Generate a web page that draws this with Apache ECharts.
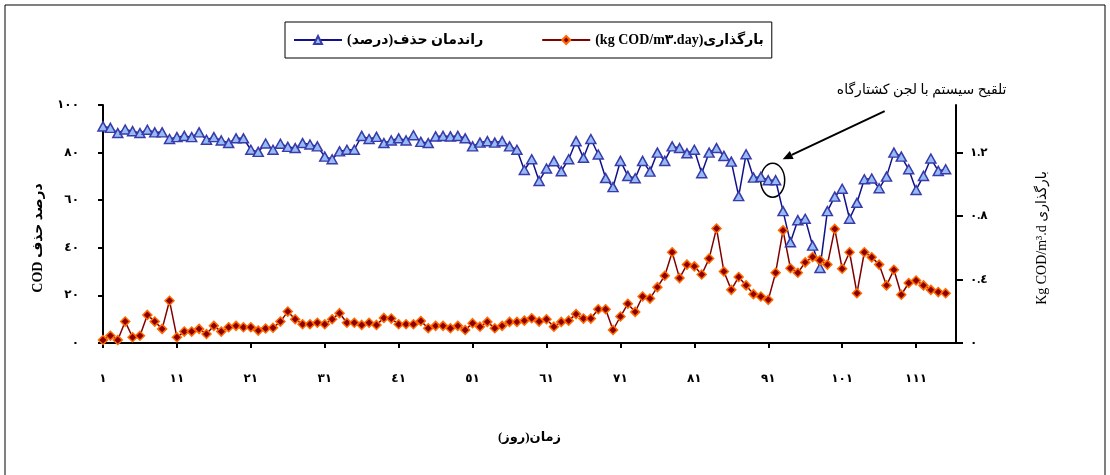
<!DOCTYPE html>
<html>
<head>
<meta charset="utf-8">
<script src="https://cdn.jsdelivr.net/npm/echarts@6/dist/echarts.min.js"></script>
<style>
html, body { margin: 0; padding: 0; background: #fff; }
#chart { width: 1110px; height: 475px; }
</style>
</head>
<body>
<div id="chart"></div>
<script>
// راندمان حذف COD (درصد) - روز ۱ تا ۱۱۵
const removal = [
    91.0, 90.4, 88.2, 89.7, 89.0, 88.2, 89.6, 88.5, 88.5, 85.7, 86.5, 87.0, 86.5, 88.5, 85.4, 86.5, 85.1, 84.0, 86.0, 86.0, 81.2, 80.3, 83.8, 81.2,
    83.7, 82.4, 81.9, 84.0, 83.4, 82.6, 78.3, 77.2, 80.5, 81.2, 81.2, 87.0, 85.7, 86.6, 84.0, 85.1, 86.0, 85.1, 87.3, 84.5, 84.0, 86.8, 87.0, 86.8,
    87.0, 86.0, 82.6, 84.2, 84.8, 84.2, 84.8, 82.6, 81.2, 72.7, 77.2, 68.1, 73.3, 76.4, 72.2, 77.2, 84.8, 77.8, 85.7, 79.2, 69.3, 65.5, 76.5,
    70.2, 69.2, 76.5, 72.0, 80.0, 76.5, 82.6, 81.9, 79.7, 81.2, 71.3, 80.0, 81.9, 78.6, 76.2, 61.7, 79.3, 69.5, 69.8, 68.4, 68.4, 55.4, 42.3, 51.6,
    52.2, 40.9, 31.5, 55.4, 61.5, 64.8, 52.2, 58.9, 68.8, 69.1, 65.0, 69.9, 80.0, 78.3, 73.0, 64.3, 70.2, 77.5, 72.3, 73.0
];
// بارگذاری (kg COD/m3.day)
const loading = [
    0.019, 0.046, 0.019, 0.135, 0.036, 0.046, 0.177, 0.135, 0.089, 0.266, 0.036, 0.072, 0.072, 0.089, 0.057, 0.108, 0.072, 0.099, 0.108, 0.099, 0.099, 0.078, 0.091, 0.096,
    0.135, 0.198, 0.150, 0.118, 0.118, 0.128, 0.118, 0.150, 0.188, 0.128, 0.128, 0.114, 0.128, 0.114, 0.158, 0.154, 0.118, 0.118, 0.118, 0.139, 0.093, 0.108, 0.108, 0.093,
    0.108, 0.082, 0.125, 0.103, 0.133, 0.093, 0.108, 0.133, 0.133, 0.141, 0.156, 0.135, 0.150, 0.103, 0.133, 0.141, 0.182, 0.154, 0.154, 0.213, 0.213, 0.082, 0.167,
    0.247, 0.196, 0.293, 0.280, 0.352, 0.424, 0.572, 0.409, 0.494, 0.483, 0.432, 0.532, 0.722, 0.451, 0.335, 0.416, 0.363, 0.308, 0.293, 0.272, 0.443, 0.710, 0.471, 0.443,
    0.508, 0.542, 0.521, 0.494, 0.719, 0.468, 0.572, 0.314, 0.572, 0.540, 0.494, 0.363, 0.462, 0.304, 0.378, 0.394, 0.363, 0.335, 0.321, 0.314
];
const dayTicks = [1, 11, 21, 31, 41, 51, 61, 71, 81, 91, 101, 111];
const rightTicks = [0, 0.4, 0.8, 1.2];

const nameRemoval = 'راندمان حذف(درصد)\u200F';
const nameLoad = '(kg COD/m۳.day)بارگذاری';
const noteText = 'تلقیح سیستم با لجن کشتارگاه';

const FONT = '"Liberation Serif", "DejaVu Sans", serif';
const AR_DIGITS = '٠١٢٣٤٥٦٧٨٩';
function toAr (s) {
    return String(s).replace(/[0-9]/g, (d) => AR_DIGITS[+d]);
}

const txt = {fontFamily: FONT, fontWeight: 'bold', fontSize: 12, color: '#000'};

let myChart = echarts.init(document.getElementById('chart'));
myChart.setOption({
    animation: false,
    backgroundColor: '#fff',
    grid: {left: 103, right: 154, top: 105, bottom: 132},
    legend: {
        left: 285,
        top: 22,
        padding: [11, 8, 11, 8],
        itemGap: 58,
        itemWidth: 48,
        itemHeight: 10,
        borderColor: '#000',
        borderWidth: 1,
        textStyle: {fontFamily: FONT, fontWeight: 'bold', fontSize: 14, color: '#000'},
        data: [nameRemoval, nameLoad]
    },
    xAxis: {
        type: 'value',
        min: 1,
        max: 116.4,
        interval: 10,
        name: 'زمان(روز)\u200F',
        nameLocation: 'middle',
        nameGap: 88,
        nameTextStyle: {fontFamily: FONT, fontWeight: 'bold', fontSize: 13, color: '#000'},
        axisLine: {show: true, lineStyle: {color: '#000', width: 2}},
        axisTick: {show: true, customValues: dayTicks, length: 5, lineStyle: {color: '#000', width: 2}},
        axisLabel: Object.assign({customValues: dayTicks, margin: 30, formatter: (v) => toAr(v)}, txt),
        splitLine: {show: false}
    },
    yAxis: [
        {
            type: 'value',
            position: 'left',
            min: 0,
            max: 100,
            interval: 20,
            name: 'COD درصد حذف',
            nameLocation: 'middle',
            nameGap: 58,
            nameTextStyle: {fontFamily: FONT, fontWeight: 'bold', fontSize: 14, color: '#000', padding: [0, 28, 0, 0]},
            axisLine: {show: true, lineStyle: {color: '#000', width: 2}},
            axisTick: {show: true, length: 5, lineStyle: {color: '#000', width: 2}},
            axisLabel: Object.assign({margin: 24, formatter: (v) => toAr(v)}, txt),
            splitLine: {show: false}
        },
        {
            type: 'value',
            position: 'right',
            min: 0,
            max: 1.5,
            name: 'Kg COD/m³.d بارگذاری',
            nameLocation: 'middle',
            nameGap: 79,
            nameTextStyle: {fontFamily: FONT, fontSize: 14, color: '#000', padding: [0, 28, 0, 0]},
            axisLine: {show: true, lineStyle: {color: '#000', width: 2}},
            axisTick: {show: true, customValues: rightTicks, length: 7, lineStyle: {color: '#000', width: 2}},
            axisLabel: Object.assign({
                customValues: rightTicks,
                margin: 14,
                formatter: (v) => toAr(v === 0 ? '0' : v.toFixed(1))
            }, txt),
            splitLine: {show: false}
        }
    ],
    series: [
        {
            name: nameRemoval,
            type: 'line',
            yAxisIndex: 0,
            data: removal.map((v, i) => [i + 1, v]),
            symbol: 'triangle',
            symbolSize: [10, 9],
            lineStyle: {color: '#10108a', width: 1.5},
            itemStyle: {color: '#94bdf7', borderColor: '#3a3aa8', borderWidth: 1.5}
        },
        {
            name: nameLoad,
            type: 'line',
            yAxisIndex: 1,
            data: loading.map((v, i) => [i + 1, v]),
            symbol: 'diamond',
            symbolSize: 9,
            lineStyle: {color: '#800000', width: 1.5},
            itemStyle: {color: '#8b0000', borderColor: '#ff6a00', borderWidth: 1.5}
        }
    ]
});

// یادداشت: بیضی دور روز ۹۱-۹۲ و فلش
let c = myChart.convertToPixel({xAxisIndex: 0, yAxisIndex: 0}, [91.6, 68.4]);
let head = [c[0] + 10, c[1] - 21];
let tail = [c[0] + 112, c[1] - 69];
let ang = Math.atan2(head[1] - tail[1], head[0] - tail[0]);
let ah = 10, aw = 4.5;
let back = [head[0] - ah * Math.cos(ang), head[1] - ah * Math.sin(ang)];
let arrowPts = [
    head,
    [back[0] + aw * Math.sin(ang), back[1] - aw * Math.cos(ang)],
    [back[0] - aw * Math.sin(ang), back[1] + aw * Math.cos(ang)]
];
myChart.setOption({
    graphic: [
        {
            type: 'rect',
            shape: {x: 5, y: 5, width: 1100, height: 480},
            style: {fill: 'none', stroke: '#000', lineWidth: 1},
            silent: true
        },
        {
            type: 'ellipse',
            shape: {cx: c[0], cy: c[1], rx: 12, ry: 17},
            style: {fill: 'none', stroke: '#000', lineWidth: 1.5}
        },
        {
            type: 'line',
            shape: {x1: tail[0], y1: tail[1], x2: back[0], y2: back[1]},
            style: {stroke: '#000', lineWidth: 2}
        },
        {
            type: 'polygon',
            shape: {points: arrowPts},
            style: {fill: '#000'}
        },
        {
            type: 'text',
            x: c[0] + 149,
            y: c[1] - 90,
            style: {
                text: noteText,
                font: '14px ' + FONT,
                fill: '#000',
                align: 'center',
                verticalAlign: 'middle'
            }
        }
    ]
});
</script>
</body>
</html>
